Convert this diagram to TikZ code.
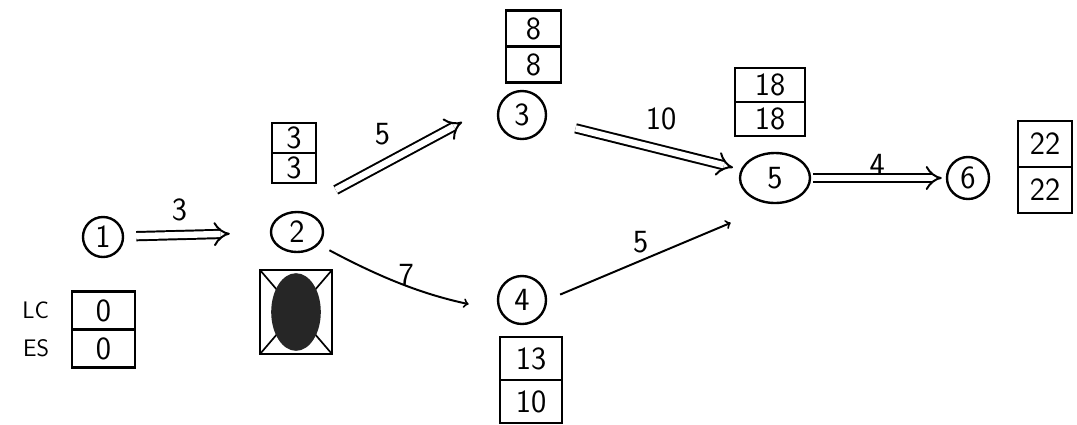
\documentclass[tikz,border=0pt]{standalone}
\usetikzlibrary{shapes,shapes.geometric,arrows,positioning}
\tikzset{
    event/.style={draw, circle, line width=1.7pt, inner sep=0pt, minimum size=1cm},
    eventwide/.style={draw, ellipse, line width=1.7pt, inner sep=0pt},
    box/.style={draw, line width=1.7pt, outer sep=0pt, inner sep=1pt, text centered},
    crit/.style={double, double distance=4.5pt, line width=1.4pt, -implies},
    act/.style={line width=1.4pt, ->},
    scratched/.style={
        draw, rectangle, line width=1.7pt, minimum width=1.8cm, minimum height=2.1cm,
        path picture = {
            \draw[black, line width=1.2pt]
            (path picture bounding box.north west) --
            (path picture bounding box.south east)
            (path picture bounding box.south west) --
            (path picture bounding box.north east);
            \fill[black!85] (path picture bounding box.center) ellipse (0.62cm and 0.97cm);
        }
    },
    tag/.style={font=\sffamily\fontsize{17}{20}\selectfont}
}
\begin{document}
\begin{tikzpicture}[x=0.025cm, y=-0.025cm, font=\sffamily\fontsize{23}{26}\selectfont]
    \useasboundingbox (0,0) rectangle (1077,424);
    % events
    \node (n1) [event] at (103,237) {1};
    \node (n2) [eventwide, minimum width=1.3cm, minimum height=1cm] at (297,232) {2};
    \node (n3) [event, minimum size=1.2cm] at (522,115) {3};
    \node (n4) [event, minimum size=1.2cm] at (522,300) {4};
    \node (n5) [eventwide, minimum width=1.75cm, minimum height=1.25cm] at (775,178) {5};
    \node (n6) [event, minimum size=1.05cm] at (968,178) {6};
    % times
    \node (b1) [box, minimum width=1.575cm, minimum height=0.95cm] at (103.5,348.5) {0};
    \node (t1) [box, anchor=south, minimum width=1.575cm, minimum height=0.95cm] at (b1.north) {0};
    \node (lc) [tag, left=0.45cm of t1] {LC};
    \node (es) [tag, left=0.45cm of b1] {ES};
    \node (b2) [box, minimum width=1.1cm, minimum height=0.75cm] at (294,168) {3};
    \node (t2) [box, anchor=south, minimum width=1.1cm, minimum height=0.75cm] at (b2.north) {3};
    \node (x2) [scratched] at (296,312) {};
    \node (b3) [box, minimum width=1.375cm, minimum height=0.9cm] at (533.5,64.5) {8};
    \node (t3) [box, anchor=south, minimum width=1.375cm, minimum height=0.9cm] at (b3.north) {8};
    \node (t4) [box, minimum width=1.55cm, minimum height=1.075cm] at (531,358.5) {13};
    \node (b4) [box, anchor=north, minimum width=1.55cm, minimum height=1.075cm] at (t4.south) {10};
    \node (b5) [box, minimum width=1.75cm, minimum height=0.85cm] at (770,119) {18};
    \node (t5) [box, anchor=south, minimum width=1.75cm, minimum height=0.85cm] at (b5.north) {18};
    \node (b6) [box, minimum width=1.35cm, minimum height=1.15cm] at (1045,190) {22};
    \node (t6) [box, anchor=south, minimum width=1.35cm, minimum height=1.15cm] at (b6.north) {22};
    % activities
    \path (n1) edge [crit, shorten <=0.3cm, shorten >=1cm] node[pos=0.38, above=0.25cm, inner sep=2pt] {3} (n2);
    \path (n2.north) edge [crit, shorten <=1.1cm, shorten >=1.7cm] node[pos=0.38, above=0.4cm, inner sep=2pt] {5} (n3.north);
    \path (n2.-30) edge [act, bend right=8, shorten <=0.3cm, shorten >=0.78cm] node[pos=0.5, yshift=0.25cm] {7} (n4.205);
    \path (n3) edge [crit, shorten <=0.75cm, shorten >=0.2cm] node[pos=0.59, above=0.4cm, inner sep=2pt] {10} (n5);
    \path (n4.east) edge [act, shorten <=0.35cm, shorten >=1.2cm] node[pos=0.41, above=0.1cm, inner sep=2pt] {5} (n5.south);
    \path (n5) edge [crit, shorten <=0.05cm, shorten >=0.1cm] node[pos=0.49, above=0.05cm, inner sep=0pt] {4} (n6);
\end{tikzpicture}
\end{document}
